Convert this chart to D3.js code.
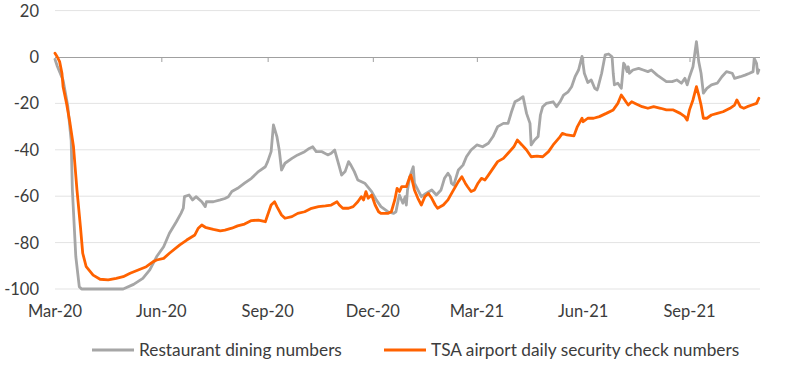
<!DOCTYPE html>
<html><head><meta charset="utf-8">
<script src="https://cdn.jsdelivr.net/npm/d3@7"></script>
<style>
html,body{margin:0;padding:0;background:#fff;}
svg{display:block;font-family:Lato,"Noto Sans",sans-serif;}
</style></head>
<body><svg id="chart" width="800" height="368"></svg>
<script>
// Restaurant dining numbers (% vs pre-pandemic)
const restaurantDates = ["2020-03-01","2020-03-03","2020-03-08","2020-03-12","2020-03-15","2020-03-16","2020-03-19","2020-03-22","2020-03-24","2020-04-29","2020-05-08","2020-05-16","2020-05-22","2020-05-28","2020-06-03","2020-06-08","2020-06-14","2020-06-18","2020-06-20","2020-06-21","2020-06-25","2020-06-28","2020-07-01","2020-07-06","2020-07-09","2020-07-10","2020-07-16","2020-07-22","2020-07-26","2020-07-29","2020-08-01","2020-08-06","2020-08-12","2020-08-18","2020-08-24","2020-08-30","2020-09-01","2020-09-04","2020-09-06","2020-09-09","2020-09-11","2020-09-13","2020-09-16","2020-09-22","2020-09-27","2020-10-03","2020-10-07","2020-10-10","2020-10-13","2020-10-18","2020-10-23","2020-10-26","2020-10-29","2020-10-31","2020-11-02","2020-11-04","2020-11-07","2020-11-10","2020-11-12","2020-11-15","2020-11-18","2020-11-24","2020-11-30","2020-12-04","2020-12-08","2020-12-14","2020-12-19","2020-12-21","2020-12-23","2020-12-24","2020-12-27","2020-12-29","2020-12-30","2020-12-31","2021-01-02","2021-01-05","2021-01-06","2021-01-09","2021-01-12","2021-01-16","2021-01-21","2021-01-25","2021-01-29","2021-02-01","2021-02-04","2021-02-06","2021-02-07","2021-02-09","2021-02-13","2021-02-17","2021-02-20","2021-02-24","2021-03-01","2021-03-06","2021-03-11","2021-03-15","2021-03-19","2021-03-24","2021-03-28","2021-03-31","2021-04-03","2021-04-07","2021-04-10","2021-04-13","2021-04-16","2021-04-17","2021-04-20","2021-04-23","2021-04-25","2021-04-27","2021-04-30","2021-05-06","2021-05-09","2021-05-12","2021-05-15","2021-05-19","2021-05-22","2021-05-25","2021-05-28","2021-05-31","2021-06-02","2021-06-05","2021-06-08","2021-06-11","2021-06-13","2021-06-14","2021-06-17","2021-06-20","2021-06-23","2021-06-26","2021-06-27","2021-06-28","2021-07-01","2021-07-04","2021-07-06","2021-07-07","2021-07-09","2021-07-10","2021-07-11","2021-07-14","2021-07-19","2021-07-23","2021-07-27","2021-07-30","2021-08-04","2021-08-08","2021-08-12","2021-08-17","2021-08-21","2021-08-25","2021-08-28","2021-08-30","2021-09-01","2021-09-04","2021-09-07","2021-09-09","2021-09-11","2021-09-13","2021-09-16","2021-09-20","2021-09-25","2021-09-29","2021-10-03","2021-10-08","2021-10-10","2021-10-15","2021-10-19","2021-10-23","2021-10-26","2021-10-27","2021-10-29","2021-10-30","2021-10-31"];
const restaurantValues = [-1,-4,-10,-21,-36,-57,-86,-99,-100,-100,-98,-95.4,-91.8,-86,-81.8,-76,-71,-67.4,-65.2,-60.2,-59.5,-61.6,-60.2,-62.4,-64.5,-62.4,-62.4,-61.6,-61,-60.2,-58,-56.6,-54.4,-52.3,-49.4,-47.3,-45.1,-40.8,-29.3,-34.3,-40.1,-48.7,-45.8,-43.7,-42.2,-40.8,-39.4,-38.7,-40.8,-40.8,-42.2,-41.5,-40.1,-43.7,-47.3,-50.9,-49.4,-45.1,-46.6,-49.4,-53,-54.4,-58,-61.6,-64.5,-66.7,-67.4,-66.7,-61.6,-59.5,-63,-60.2,-63.8,-57.3,-51.6,-47.3,-54.4,-57.3,-60.2,-58.8,-57.3,-59.5,-57.3,-52.3,-50.1,-51.6,-54.4,-55.2,-48.7,-46.6,-43,-40.1,-37.9,-38.7,-37.2,-34.3,-30,-28.6,-28.6,-23.6,-19.3,-18.2,-17.1,-24.3,-28.6,-37.9,-35.8,-34.3,-25,-21.4,-20,-19.3,-21.4,-19.3,-16.4,-15,-12.8,-8.5,-5.6,0.3,-7,-11,-9.9,-13.5,-14.2,-12.8,-7,0.9,1.3,0.1,-7,-12,-11.3,-13.5,-2.7,-3.4,-6.3,-4.2,-7,-5.6,-4.9,-5.6,-6.3,-5.6,-7.8,-9.2,-10.6,-10.6,-9.9,-11.3,-9.2,-12,-8.5,-4.2,6.6,-2,-7,-15.6,-13.5,-12,-11.3,-8.5,-6.3,-7,-9.2,-8.5,-7.8,-7,-6.3,-0.6,-2.7,-7,-5.6];

// TSA airport daily security check numbers (% vs pre-pandemic)
const tsaDates = ["2020-03-01","2020-03-03","2020-03-05","2020-03-07","2020-03-08","2020-03-11","2020-03-14","2020-03-17","2020-03-20","2020-03-23","2020-03-25","2020-03-28","2020-04-03","2020-04-09","2020-04-16","2020-04-23","2020-04-29","2020-05-05","2020-05-12","2020-05-19","2020-05-25","2020-05-28","2020-06-03","2020-06-08","2020-06-17","2020-06-23","2020-06-30","2020-07-03","2020-07-06","2020-07-09","2020-07-16","2020-07-22","2020-07-26","2020-08-01","2020-08-06","2020-08-12","2020-08-18","2020-08-24","2020-08-30","2020-09-01","2020-09-04","2020-09-07","2020-09-09","2020-09-13","2020-09-16","2020-09-22","2020-09-27","2020-10-03","2020-10-09","2020-10-15","2020-10-21","2020-10-26","2020-10-31","2020-11-02","2020-11-05","2020-11-10","2020-11-14","2020-11-18","2020-11-21","2020-11-23","2020-11-25","2020-11-27","2020-11-30","2020-12-03","2020-12-06","2020-12-08","2020-12-14","2020-12-17","2020-12-20","2020-12-22","2020-12-24","2020-12-26","2020-12-30","2021-01-02","2021-01-03","2021-01-06","2021-01-09","2021-01-12","2021-01-15","2021-01-18","2021-01-21","2021-01-24","2021-01-26","2021-01-31","2021-02-04","2021-02-08","2021-02-13","2021-02-16","2021-02-19","2021-02-21","2021-02-24","2021-02-27","2021-03-02","2021-03-05","2021-03-08","2021-03-11","2021-03-15","2021-03-19","2021-03-24","2021-03-28","2021-04-02","2021-04-05","2021-04-09","2021-04-13","2021-04-17","2021-04-22","2021-04-27","2021-05-02","2021-05-06","2021-05-11","2021-05-14","2021-05-18","2021-05-24","2021-05-27","2021-05-31","2021-06-01","2021-06-05","2021-06-10","2021-06-15","2021-06-21","2021-06-27","2021-07-01","2021-07-04","2021-07-06","2021-07-08","2021-07-10","2021-07-13","2021-07-16","2021-07-22","2021-07-27","2021-08-01","2021-08-07","2021-08-12","2021-08-18","2021-08-24","2021-08-28","2021-08-30","2021-09-01","2021-09-04","2021-09-07","2021-09-09","2021-09-11","2021-09-13","2021-09-16","2021-09-20","2021-09-25","2021-09-30","2021-10-06","2021-10-10","2021-10-12","2021-10-15","2021-10-18","2021-10-21","2021-10-25","2021-10-29","2021-10-31"];
const tsaValues = [1.6,0,-2,-7,-12.8,-20,-28.6,-38.7,-57.3,-73.1,-84.6,-90.4,-94,-95.8,-96.1,-95.4,-94.7,-93.2,-91.8,-90.4,-88.2,-87.5,-86.8,-84.6,-81,-78.9,-76.7,-73.8,-72.4,-73.4,-74.3,-74.9,-74.6,-73.8,-72.8,-72,-70.5,-70.3,-71,-68.1,-63.8,-62.4,-64.5,-68.1,-69.5,-68.8,-67.4,-66.7,-65.2,-64.5,-64.2,-63.8,-62.4,-63.8,-65.2,-65.2,-64.5,-62.4,-60.2,-61.6,-58,-60.9,-59.5,-63.8,-66.7,-67.4,-67.4,-66.7,-61.6,-56.6,-58,-55.9,-55.9,-51.6,-50.9,-57.3,-60.9,-63.8,-60.2,-58.8,-60.9,-63.8,-65.2,-63.8,-61.6,-58,-53.7,-51.6,-54.4,-55.9,-58,-57.3,-54.4,-52.3,-53,-50.9,-48,-45.1,-43.7,-41.5,-38.7,-35.8,-37.9,-40.1,-43,-42.7,-43,-40.8,-37.9,-35,-32.9,-33.6,-34,-30,-26.4,-27.9,-26.4,-26.4,-25.7,-24.3,-22.8,-20,-16.4,-17.8,-19.3,-20.7,-19.3,-20,-21.4,-22.1,-21.4,-22.1,-22.8,-22.8,-24.3,-25.7,-27.2,-22.8,-18.5,-12.8,-16.4,-20.7,-26.4,-26.4,-25,-24.3,-23.6,-22.1,-20.7,-18.5,-21.4,-22.1,-21.4,-20.7,-20,-17.8];

const xTickDates = ["2020-03-01","2020-06-01","2020-09-01","2020-12-01","2021-03-01","2021-06-01","2021-09-01"];
const yTicks = [-100,-80,-60,-40,-20,0,20];
const seriesNames = ["Restaurant dining numbers","TSA airport daily security check numbers"];
const seriesColors = ["#a6a6a6","#ff6200"];

const parse = d3.timeParse("%Y-%m-%d");
const svg = d3.select("#chart");
const x = d3.scaleTime().domain([parse("2020-03-01"), parse("2021-11-01")]).range([55, 760]);
const y = d3.scaleLinear().domain([-100, 20]).range([289, 10.6]);

// gridlines
svg.append("g").selectAll("line").data(yTicks.filter(v => v !== 0)).join("line")
  .attr("x1", 55).attr("x2", 760)
  .attr("y1", d => y(d)).attr("y2", d => y(d))
  .attr("stroke", "#e3e3e3").attr("stroke-width", 1);

// y labels
svg.append("g").selectAll("text").data(yTicks).join("text")
  .attr("x", 39).attr("y", d => y(d)).attr("dy", "0.36em")
  .attr("text-anchor", "end").attr("font-size", 16.5).attr("fill", "#3c3c3c")
  .text(d => d);

// zero axis with ticks
const xAxis = d3.axisBottom(x).tickValues(xTickDates.map(parse)).tickSize(5).tickFormat("");
const ax = svg.append("g").attr("transform", `translate(0,${y(0)})`).call(xAxis);
ax.select(".domain").attr("stroke", "#a0a0a0").attr("d", `M55,0.5H760`);
ax.selectAll(".tick line").attr("stroke", "#a0a0a0");
ax.selectAll(".tick").filter((d, i) => i === 0).select("line").remove();

// x labels
const fmt = d3.timeFormat("%b-%y");
svg.append("g").selectAll("text").data(xTickDates.map(parse)).join("text")
  .attr("x", d => x(d)).attr("y", 317)
  .attr("text-anchor", "middle").attr("font-size", 16.5).attr("fill", "#3c3c3c")
  .text(d => fmt(d));

// lines
const series = [
  restaurantDates.map((d, i) => ({date: parse(d), value: restaurantValues[i]})),
  tsaDates.map((d, i) => ({date: parse(d), value: tsaValues[i]}))
];
const line = d3.line().x(d => x(d.date)).y(d => y(d.value));
series.forEach((s, i) => {
  svg.append("path").datum(s).attr("d", line)
    .attr("fill", "none").attr("stroke", seriesColors[i]).attr("stroke-width", 2.8)
    .attr("stroke-linejoin", "round").attr("stroke-linecap", "round");
});

// legend
const legend = [{x: 92, tx: 139}, {x: 384, tx: 431}];
legend.forEach((p, i) => {
  svg.append("line").attr("x1", p.x).attr("x2", p.x + 42).attr("y1", 350).attr("y2", 350)
    .attr("stroke", seriesColors[i]).attr("stroke-width", 2.8);
  svg.append("text").attr("x", p.tx).attr("y", 350).attr("dy", "0.35em")
    .attr("font-size", 17.3).attr("fill", "#3c3c3c").text(seriesNames[i]);
});
</script></body></html>
